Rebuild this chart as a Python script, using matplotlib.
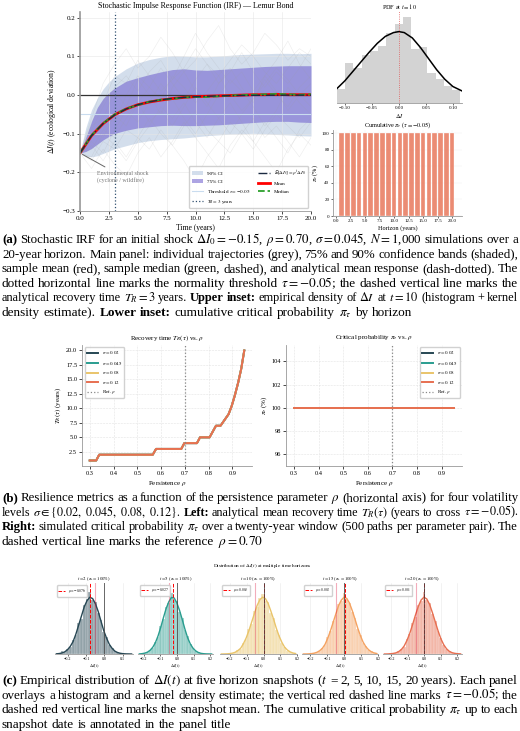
import numpy as np
import matplotlib
matplotlib.use("Agg")
import matplotlib.pyplot as plt

plt.rcParams['font.family'] = ['Liberation Serif', 'DejaVu Serif']
plt.rcParams['mathtext.fontset'] = 'stix'

# ---- (a) main panel data ----
years = list(range(21))
band_t = [0, 0.5, 1, 1.5, 2, 2.5, 3, 4, 5, 6, 7, 8, 9, 10, 11, 12, 13, 14, 15, 16, 17, 18, 19, 20]
q95 = [-0.150, -0.085, -0.038, -0.008, 0.016, 0.034, 0.048, 0.068, 0.083, 0.092, 0.098, 0.102,
       0.101, 0.099, 0.099, 0.101, 0.103, 0.105, 0.106, 0.107, 0.108, 0.108, 0.107, 0.108]
q875 = [-0.150, -0.110, -0.068, -0.032, -0.009, 0.006, 0.018, 0.036, 0.045, 0.053, 0.060, 0.066,
        0.068, 0.065, 0.064, 0.066, 0.068, 0.070, 0.072, 0.074, 0.075, 0.076, 0.076, 0.076]
q125 = [-0.150, -0.146, -0.138, -0.127, -0.116, -0.107, -0.099, -0.091, -0.085, -0.082, -0.079, -0.078,
        -0.079, -0.079, -0.078, -0.077, -0.075, -0.073, -0.071, -0.069, -0.068, -0.068, -0.070, -0.071]
q05 = [-0.150, -0.158, -0.160, -0.157, -0.151, -0.145, -0.139, -0.131, -0.123, -0.118, -0.115, -0.113,
       -0.111, -0.108, -0.105, -0.103, -0.101, -0.100, -0.099, -0.100, -0.102, -0.103, -0.105, -0.106]
mean_path = [-0.150, -0.105, -0.074, -0.051, -0.036, -0.025, -0.018, -0.013, -0.009, -0.006, -0.004,
             -0.003, -0.002, -0.001, 0.000, 0.001, 0.001, 0.002, 0.001, 0.001, 0.001]
median_path = [-0.150, -0.104, -0.073, -0.050, -0.035, -0.026, -0.017, -0.012, -0.010, -0.006, -0.005,
               -0.005, -0.003, -0.001, 0.000, 0.001, 0.002, 0.003, 0.002, 0.001, 0.002]
analytic_path = [-0.150, -0.105, -0.0735, -0.0515, -0.036, -0.025, -0.0176, -0.0124, -0.0086, -0.006,
                 -0.0042, -0.003, -0.002, -0.0015, -0.001, -0.0007, -0.0005, -0.0003, -0.0002, -0.0002, -0.0001]
grey_paths = [
    [-0.15, -0.09, -0.03, 0.02, 0.05, 0.01, 0.06, 0.09, 0.04, 0.07, 0.12, 0.08, 0.05, 0.09, 0.13, 0.10, 0.06, 0.03, 0.07, 0.11, 0.08],
    [-0.15, -0.17, -0.12, -0.14, -0.09, -0.11, -0.06, -0.10, -0.13, -0.08, -0.04, -0.09, -0.12, -0.07, -0.10, -0.14, -0.09, -0.05, -0.08, -0.11, -0.07],
    [-0.15, -0.08, -0.06, 0.01, -0.03, 0.04, 0.00, -0.05, 0.02, 0.06, 0.01, -0.03, 0.03, 0.07, 0.02, -0.02, 0.05, 0.01, -0.04, 0.00, 0.03],
    [-0.15, -0.12, -0.15, -0.09, -0.04, -0.07, -0.02, 0.03, -0.01, -0.06, -0.10, -0.05, 0.00, 0.04, 0.01, -0.03, -0.08, -0.04, 0.02, -0.02, -0.05],
    [-0.15, -0.06, 0.03, 0.08, 0.12, 0.07, 0.10, 0.15, 0.11, 0.06, 0.09, 0.14, 0.18, 0.12, 0.08, 0.11, 0.16, 0.13, 0.09, 0.12, 0.10],
    [-0.15, -0.19, -0.14, -0.18, -0.21, -0.15, -0.11, -0.16, -0.12, -0.07, -0.11, -0.15, -0.19, -0.13, -0.09, -0.12, -0.16, -0.20, -0.14, -0.10, -0.13],
    [-0.15, -0.10, -0.11, -0.05, -0.08, -0.02, 0.02, -0.01, 0.05, 0.02, -0.02, 0.01, 0.05, 0.00, -0.04, -0.01, 0.03, 0.07, 0.04, 0.00, -0.03],
    [-0.15, -0.14, -0.09, -0.11, -0.06, -0.02, -0.07, -0.04, -0.08, -0.03, 0.02, -0.02, -0.06, -0.10, -0.05, -0.01, 0.04, 0.00, -0.03, 0.02, 0.05],
    [-0.15, -0.07, -0.02, 0.05, 0.03, 0.09, 0.05, 0.01, 0.04, 0.10, 0.16, 0.11, 0.07, 0.03, 0.06, 0.01, 0.05, 0.09, 0.14, 0.08, 0.04],
    [-0.15, -0.13, -0.17, -0.12, -0.16, -0.11, -0.14, -0.09, -0.13, -0.17, -0.22, -0.16, -0.12, -0.15, -0.10, -0.06, -0.11, -0.08, -0.12, -0.16, -0.11],
    [-0.15, -0.11, -0.05, -0.07, 0.00, 0.05, 0.02, 0.07, 0.03, -0.01, 0.04, 0.08, 0.03, 0.06, 0.11, 0.06, 0.02, 0.06, 0.03, 0.07, 0.12],
    [-0.15, -0.16, -0.10, -0.13, -0.17, -0.12, -0.08, -0.03, -0.06, -0.02, -0.07, -0.11, -0.06, -0.02, -0.07, -0.12, -0.07, -0.11, -0.15, -0.09, -0.06],
]
tau = -0.05
t_recovery = 3

# upper inset: PDF at t = 10
pdf_range = (-0.1146, 0.1140)
pdf_hist = [45, 125, 110, 150, 165, 180, 222, 250, 270, 170, 175, 95, 75, 55, 40]
pdf_kde_x = [-0.115, -0.10, -0.085, -0.07, -0.055, -0.04, -0.025, -0.01, 0.0, 0.01, 0.025, 0.04,
             0.055, 0.07, 0.085, 0.10, 0.117]
pdf_kde_y = [45, 70, 100, 130, 160, 188, 210, 222, 225, 222, 205, 175, 140, 105, 75, 52, 38]

# lower inset: cumulative critical probability
horizons = list(range(1, 21))
pi_cum = [100] * 20

# ---- (b) data ----
sigmas = ['0.02', '0.045', '0.08', '0.12']
sigma_colors = ['#264653', '#2a9d8f', '#e9c46a', '#e76f51']
rho_pts = [0.300, 0.327, 0.340, 0.565, 0.579, 0.685, 0.698, 0.751, 0.764, 0.804, 0.831, 0.850,
           0.884, 0.897, 0.910, 0.924, 0.937, 0.950]
tr_pts = [1, 1, 2, 2, 3, 3, 4, 4, 5, 5, 7, 7, 9, 10.4, 12.2, 14.4, 16.8, 20]
pi_rho = [100] * len(rho_pts)
rho_ref = 0.70

# ---- (c) data ----
snap_t = [2, 5, 10, 15, 20]
snap_mu = [-0.076, -0.027, 0.003, 0.002, 0.001]
snap_colors = ['#264653', '#2a9d8f', '#e9c46a', '#f4a261', '#e76f51']
snap_range = [(-0.27, 0.157), (-0.236, 0.218), (-0.26, 0.20), (-0.25, 0.20), (-0.25, 0.23)]
snap_hist = [
    [0.004, 0.01, 0.05, 0.03, 0.08, 0.12, 0.24, 0.33, 0.55, 0.62, 0.86, 0.97, 1.10, 0.95, 0.92, 0.73, 0.60, 0.39, 0.30, 0.16, 0.11, 0.05, 0.03, 0.01, 0.008, 0.003, 0.001, 0.0],
    [0.004, 0.01, 0.02, 0.03, 0.07, 0.11, 0.22, 0.30, 0.50, 0.61, 0.83, 0.89, 1.08, 0.95, 0.93, 0.74, 0.63, 0.42, 0.31, 0.17, 0.11, 0.05, 0.03, 0.01, 0.006, 0.002, 0.001, 0.001],
    [0.0, 0.002, 0.004, 0.01, 0.02, 0.03, 0.07, 0.09, 0.20, 0.26, 0.44, 0.53, 0.75, 0.82, 0.98, 1.06, 0.94, 0.91, 0.72, 0.63, 0.43, 0.33, 0.19, 0.13, 0.06, 0.04, 0.015, 0.008],
    [0.001, 0.002, 0.005, 0.006, 0.02, 0.03, 0.06, 0.11, 0.16, 0.30, 0.40, 0.58, 0.69, 0.88, 0.93, 1.07, 0.96, 0.90, 0.74, 0.63, 0.44, 0.34, 0.20, 0.14, 0.07, 0.045, 0.02, 0.01],
    [0.0, 0.002, 0.02, 0.015, 0.02, 0.045, 0.08, 0.13, 0.26, 0.35, 0.55, 0.66, 0.86, 0.93, 1.10, 0.95, 0.90, 0.71, 0.58, 0.40, 0.28, 0.16, 0.09, 0.05, 0.02, 0.01, 0.005, 0.002],
]
snap_kde = [
    [0.003, 0.008, 0.018, 0.038, 0.076, 0.135, 0.22, 0.35, 0.51, 0.67, 0.83, 0.94, 0.999, 0.976, 0.887, 0.75, 0.58, 0.41, 0.28, 0.17, 0.10, 0.05, 0.025, 0.012, 0.005, 0.002, 0.001, 0.0],
    [0.002, 0.006, 0.015, 0.032, 0.065, 0.118, 0.20, 0.32, 0.47, 0.64, 0.80, 0.92, 0.995, 0.986, 0.90, 0.77, 0.61, 0.44, 0.29, 0.18, 0.105, 0.056, 0.027, 0.012, 0.005, 0.002, 0.001, 0.0],
    [0.0, 0.001, 0.003, 0.007, 0.015, 0.03, 0.06, 0.10, 0.18, 0.28, 0.41, 0.56, 0.71, 0.855, 0.956, 1.0, 0.976, 0.89, 0.755, 0.61, 0.45, 0.315, 0.205, 0.12, 0.07, 0.037, 0.018, 0.008],
    [0.0, 0.001, 0.003, 0.007, 0.015, 0.03, 0.057, 0.10, 0.17, 0.28, 0.41, 0.56, 0.71, 0.855, 0.95, 0.999, 0.978, 0.895, 0.766, 0.618, 0.46, 0.325, 0.21, 0.13, 0.076, 0.04, 0.02, 0.009],
    [0.0, 0.001, 0.004, 0.009, 0.019, 0.04, 0.078, 0.14, 0.24, 0.365, 0.52, 0.685, 0.835, 0.95, 1.0, 0.97, 0.875, 0.73, 0.57, 0.41, 0.27, 0.165, 0.093, 0.047, 0.023, 0.011, 0.005, 0.002],
]

# ---- captions (tokens starting with ** are bold) ----
cap_a = [
    r"**(a) Stochastic IRF for an initial shock $\Delta I_0 = -0.15$, $\rho = 0.70$, $\sigma = 0.045$, $N = 1$,000 simulations over a",
    r"20-year horizon. Main panel: individual trajectories (grey), 75% and 90% confidence bands (shaded),",
    r"sample mean (red), sample median (green, dashed), and analytical mean response (dash-dotted). The",
    r"dotted horizontal line marks the normality threshold $\tau = -0.05$; the dashed vertical line marks the",
    r"analytical recovery time $T_R = 3$ years. **Upper **inset: empirical density of $\Delta I$ at $t = 10$ (histogram + kernel",
    r"density estimate). **Lower **inset: cumulative critical probability $\pi_\tau$ by horizon",
]
cap_b = [
    r"**(b) Resilience metrics as a function of the persistence parameter $\rho$ (horizontal axis) for four volatility",
    r"levels $\sigma \in \{0.02,\ 0.045,\ 0.08,\ 0.12\}$. **Left: analytical mean recovery time $T_R(\tau)$ (years to cross $\tau = -0.05$).",
    r"**Right: simulated critical probability $\pi_\tau$ over a twenty-year window (500 paths per parameter pair). The",
    r"dashed vertical line marks the reference $\rho = 0.70$",
]
cap_c = [
    r"**(c) Empirical distribution of $\Delta I(t)$ at five horizon snapshots ($t$ = 2, 5, 10, 15, 20 years). Each panel",
    r"overlays a histogram and a kernel density estimate; the vertical red dashed line marks $\tau = -0.05$; the",
    r"dashed red vertical line marks the snapshot mean. The cumulative critical probability $\pi_\tau$ up to each",
    r"snapshot date is annotated in the panel title",
]

W, H = 520, 731
fig = plt.figure(figsize=(W / 100, H / 100), dpi=100)


def box(l, t, r, b):
    return fig.add_axes([l / W, 1 - b / H, (r - l) / W, (b - t) / H])


def clean(ax, left=True):
    ax.spines['top'].set_visible(False)
    ax.spines['right'].set_visible(False)
    if not left:
        ax.spines['left'].set_visible(False)
        ax.set_yticks([])
    for s in ax.spines.values():
        s.set_color('#999999')
        s.set_linewidth(0.6)


# ================= (a) main panel =================
ax = box(80, 12, 311, 211)
for p in grey_paths:
    ax.plot(years, p, color='#a0a0a0', lw=0.4, alpha=0.2)
h90 = ax.fill_between(band_t, q05, q95, color='#b0c4de', alpha=0.55, lw=0, label='90% CI')
h75 = ax.fill_between(band_t, q125, q875, color='#6a5acd', alpha=0.55, lw=0, label='75% CI')
ax.axhline(0, color='#333333', lw=0.9)
hthr = ax.axhline(tau, color='#c9dcef', lw=0.8, label=r'Threshold $\tau = -0.05$')
htr = ax.axvline(t_recovery, color='#2f4f6f', ls=':', lw=0.9, label=r'$T_R = 3$ years')
hmean, = ax.plot(years, mean_path, color='red', lw=2.0, label='Mean')
hmed, = ax.plot(years, median_path, color='#2ca02c', ls='--', lw=1.3, label='Median')
hana, = ax.plot(years, analytic_path, color='#1b2a41', ls='-.', lw=1.0,
                label=r'$\mathbb{E}[\Delta I_t] = \rho^t\, \Delta I_0$')
ax.annotate("Environmental shock\n(cyclone / wildfire)", xy=(0, -0.15), xytext=(1.5, -0.212),
            fontsize=4.3, color='#777777', va='center',
            arrowprops=dict(arrowstyle='-', color='#666666', lw=0.7))
ax.set_xlim(0, 20)
ax.set_ylim(-0.3, 0.215)
ax.set_xticks([0, 2.5, 5, 7.5, 10, 12.5, 15, 17.5, 20])
ax.set_yticks([-0.3, -0.2, -0.1, 0.0, 0.1, 0.2])
ax.tick_params(labelsize=5, length=2, width=0.5, pad=1.5)
ax.grid(color='#e6e6e6', lw=0.4)
ax.set_xlabel('Time (years)', fontsize=5.5, labelpad=2)
ax.set_ylabel(r'$\Delta I(t)$ (ecological deviation)', fontsize=5.5, labelpad=3)
ax.set_title('Stochastic Impulse Response Function (IRF) — Lemur Bond', fontsize=5.8, pad=3)
clean(ax)
ax.spines['left'].set_linewidth(1.2)
ax.legend(handles=[h90, h75, hthr, htr, hana, hmean, hmed], ncol=2, loc='lower right',
          fontsize=3.7, handlelength=2.2, borderpad=0.5, columnspacing=1.5, labelspacing=0.6,
          framealpha=0.9, edgecolor='#cccccc')

# upper inset
ai = box(337, 11, 462, 103)
edges = np.linspace(pdf_range[0], pdf_range[1], len(pdf_hist) + 1)
ai.bar(edges[:-1], pdf_hist, width=np.diff(edges), align='edge', color='#d3d3d3', lw=0)
ai.plot(pdf_kde_x, pdf_kde_y, color='black', lw=1.1)
ai.axvline(0, color='#e05555', ls=':', lw=0.6)
ai.set_xlim(-0.1146, 0.117)
ai.set_ylim(0, 290)
ai.set_xticks([-0.10, -0.05, 0.0, 0.05, 0.10])
ai.tick_params(labelsize=3.6, length=1.5, width=0.4, pad=1)
ai.set_xlabel(r'$\Delta I$', fontsize=4.5, labelpad=1)
ai.set_title(r'PDF at $t = 10$', fontsize=4.5, pad=1.5)
clean(ai, left=False)

# lower inset
al = box(333, 130, 462, 216)
al.bar(horizons, pi_cum, width=0.8, color='#e76f51', alpha=0.8, edgecolor='white', lw=0.3)
al.set_xlim(-0.5, 21.7)
al.set_ylim(0, 104)
al.set_xticks([0, 2.5, 5, 7.5, 10, 12.5, 15, 17.5, 20])
al.set_yticks([0, 20, 40, 60, 80, 100])
al.tick_params(labelsize=3.6, length=1.5, width=0.4, pad=1)
al.grid(color='#eeeeee', lw=0.3)
al.set_axisbelow(True)
al.set_xlabel('Horizon (years)', fontsize=4.5, labelpad=1)
al.set_ylabel(r'$\pi_\tau$ (%)', fontsize=4.5, labelpad=1)
al.set_title(r'Cumulative $\pi_\tau$ ($\tau = -0.05$)', fontsize=4.5, pad=2)
clean(al)

# ================= (b) =================
bl = box(82, 345, 252, 466)
br = box(286, 345, 462, 466)
for a, yvals in ((bl, tr_pts), (br, pi_rho)):
    for s, c in zip(sigmas, sigma_colors):
        a.plot(rho_pts, yvals, color=c, lw=1.4, label=r'$\sigma = %s$' % s)
    a.axvline(rho_ref, color='#888888', ls=':', lw=0.9, label=r'Ref. $\rho$')
    a.grid(color='#e4e4e4', lw=0.4, ls='--')
    a.tick_params(labelsize=4.6, length=2, width=0.5, pad=1.5)
    a.set_xlabel(r'Persistence $\rho$', fontsize=5, labelpad=2)
    a.set_xticks([0.3, 0.4, 0.5, 0.6, 0.7, 0.8, 0.9])
    clean(a)
bl.set_xlim(0.2675, 0.9825)
bl.set_ylim(0.05, 20.95)
bl.set_title(r'Recovery time $T_R(\tau)$ vs. $\rho$', fontsize=5, pad=4)
bl.set_ylabel(r'$T_R(\tau)$ (years)', fontsize=5, labelpad=2)
bl.legend(loc='upper left', fontsize=3.6, handlelength=2.2, framealpha=0.9, edgecolor='#cccccc')
br.set_xlim(0.2675, 0.9825)
br.set_ylim(95, 105.4)
br.set_yticks([96, 98, 100, 102, 104])
br.set_title(r'Critical probability $\pi_\tau$ vs. $\rho$', fontsize=5, pad=4)
br.set_ylabel(r'$\pi_\tau$ (%)', fontsize=5, labelpad=2)
br.legend(loc='upper right', fontsize=3.6, handlelength=2.2, framealpha=0.9, edgecolor='#cccccc')

# ================= (c) =================
fig.text(262 / W, 1 - 566 / H, r'Distribution of $\Delta I(t)$ at multiple time horizons',
         fontsize=3.8, ha='center', va='center')
panel_x = [(55, 133), (138, 213), (220, 297), (302, 378), (383, 462)]
for k in range(5):
    a = box(panel_x[k][0], 583, panel_x[k][1], 654)
    lo, hi = snap_range[k]
    e = np.linspace(lo, hi, len(snap_hist[k]) + 1)
    ctr = (e[:-1] + e[1:]) / 2
    col = snap_colors[k]
    a.bar(e[:-1], snap_hist[k], width=np.diff(e), align='edge', color=col, alpha=0.5,
          edgecolor='white', lw=0.3)
    a.plot(ctr, snap_kde[k], color=col, lw=1.0)
    a.axvline(tau, color='crimson', alpha=0.35, lw=0.8)
    a.axvline(snap_mu[k], color='red', ls='--', lw=0.7, label=r'$\mu = %.3f$' % snap_mu[k])
    a.axvline(0, color='#444444', lw=0.7, alpha=0.8)
    a.set_xlim(lo, hi)
    a.set_ylim(0, 1.25)
    a.set_xticks([x for x in (-0.2, -0.1, 0.0, 0.1, 0.2) if lo <= x <= hi])
    a.tick_params(labelsize=3.0, length=1.2, width=0.4, pad=1)
    a.grid(axis='x', color='#e8e8e8', lw=0.4)
    a.set_axisbelow(True)
    a.set_xlabel(r'$\Delta I(t)$', fontsize=3.2, labelpad=1)
    a.set_title(r'$t = %d$ ($\pi_\tau = 100\%%$)' % snap_t[k], fontsize=3.4, pad=2)
    a.legend(loc='upper left', fontsize=2.6, handlelength=1.8, framealpha=0.9, edgecolor='#cccccc')
    clean(a, left=False)


# ================= captions (justified) =================
def tokens(line):
    out, cur, inmath = [], '', False
    for ch in line:
        if ch == '$':
            inmath = not inmath
        if ch == ' ' and not inmath:
            if cur:
                out.append(cur)
            cur = ''
        else:
            cur += ch
    if cur:
        out.append(cur)
    return out


def caption(lines, base0, size=9.5, step=14.6, left=2, right=518):
    r = fig.canvas.get_renderer()
    for i, line in enumerate(lines):
        y = 1 - (base0 + i * step) / H
        fs = size
        while True:
            items = []
            for tok in tokens(line):
                bold = tok.startswith('**')
                t = fig.text(0, y, tok.lstrip('*'), fontsize=fs, va='baseline', ha='left',
                             weight='bold' if bold else 'normal')
                items.append(t)
            widths = [t.get_window_extent(r).width for t in items]
            gap = fs * 100 / 72 * 0.27
            last = i == len(lines) - 1
            if not last and len(items) > 1:
                gap = (right - left - sum(widths)) / (len(items) - 1)
            if gap >= fs * 100 / 72 * 0.2 or fs < 7:
                break
            for t in items:
                t.remove()
            fs -= 0.1
        x = left
        for t, w in zip(items, widths):
            t.set_x(x / W)
            x += w + gap


caption(cap_a, 243)
caption(cap_b, 501)
caption(cap_c, 684)

fig.savefig('out.png', dpi=100)
